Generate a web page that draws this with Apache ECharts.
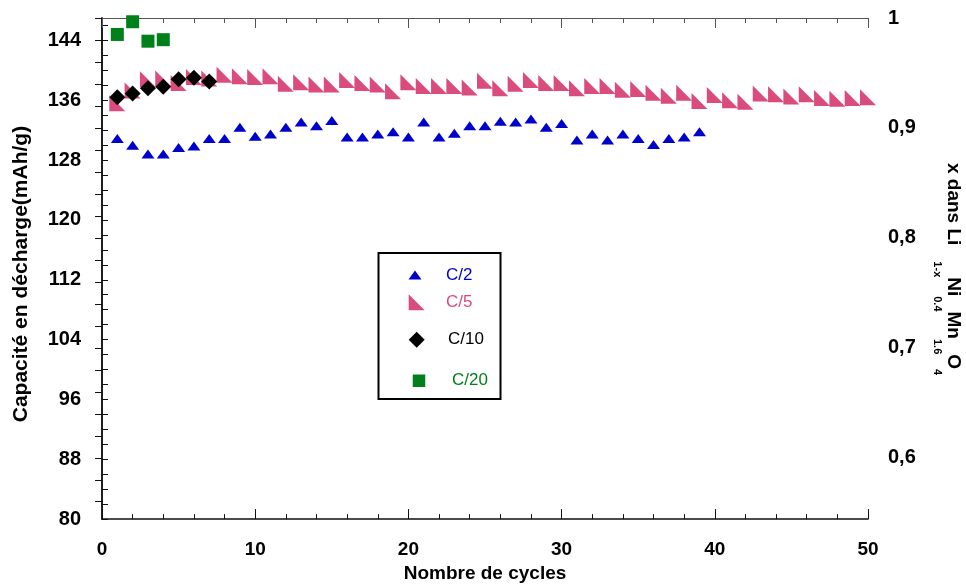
<!DOCTYPE html>
<html>
<head>
<meta charset="utf-8">
<script src="https://cdn.jsdelivr.net/npm/echarts@6/dist/echarts.min.js"></script>
<style>
  html, body { margin: 0; padding: 0; background: #fff; }
  #chart { width: 966px; height: 588px; }
</style>
</head>
<body>
<div id="chart"></div>
<script>
// ---- data ----
var cyclesC2 = [1,2,3,4,5,6,7,8,9,10,11,12,13,14,15,16,17,18,19,20,21,22,23,24,25,26,27,28,29,30,31,32,33,34,35,36,37,38,39];
var capC2 = [130.9,130.0,128.8,128.8,129.7,129.9,130.9,130.9,132.4,131.2,131.5,132.4,133.1,132.6,133.3,131.1,131.1,131.5,131.8,131.1,133.1,131.1,131.6,132.6,132.6,133.2,133.1,133.5,132.4,132.9,130.7,131.5,130.7,131.5,130.9,130.1,130.9,131.1,131.8];
var cyclesC5 = [1,2,3,4,5,6,7,8,9,10,11,12,13,14,15,16,17,18,19,20,21,22,23,24,25,26,27,28,29,30,31,32,33,34,35,36,37,38,39,40,41,42,43,44,45,46,47,48,49,50];
var capC5 = [135.6,137.3,138.8,138.9,138.3,139.1,138.9,139.4,139.2,139.1,139.2,138.2,138.4,138.1,138.1,138.7,138.3,138.1,137.2,138.4,137.9,137.9,137.9,137.7,138.6,137.6,138.2,138.7,138.3,138.3,137.6,137.9,137.9,137.4,137.5,137.0,136.6,137.0,135.9,136.7,136.0,135.8,136.9,136.8,136.5,136.8,136.3,136.2,136.3,136.4];
var cyclesC10 = [1,2,3,4,5,6,7];
var capC10 = [136.4,136.9,137.6,137.8,138.8,139.0,138.5];
var cyclesC20 = [1,2,3,4];
var capC20 = [144.8,146.5,143.9,144.1];

var seriesNames = ['C/2','C/5','C/10','C/20'];
var leftLabelValues = [80,88,96,104,112,120,128,136,144];
var leftTickValues = [80,82,84,86,88,90,92,94,96,98,100,102,104,106,108,110,112,114,116,118,120,122,124,126,128,130,132,134,136,138,140,142,144,146];
var rightLabelValues = [0.6,0.7,0.8,0.9,1];
var rightTickValues = [0.56,0.58,0.6,0.62,0.64,0.66,0.68,0.7,0.72,0.74,0.76,0.78,0.8,0.82,0.84,0.86,0.88,0.9,0.92,0.94,0.96,0.98,1];
var capMin = 80, capMax = 147;   // left axis range (mAh/g)
var xMin = 0, xMax = 50;

function pairs(xs, ys) { return xs.map(function (x, i) { return [x, ys[i]]; }); }

var FONT = 'Liberation Sans, Arial, Helvetica, sans-serif';
var colBlue = '#0000CC', colPink = '#DA4C7B', colBlack = '#000000', colGreen = '#00801A';
var pinkPath = 'path://M0,0 L0,10 L10,10 Z';

var chart = echarts.init(document.getElementById('chart'), null, { renderer: 'canvas' });

function legendItem(name, color, left, top, w, h, pad) {
  return {
    show: true, data: [name], left: left, top: top, padding: 0,
    itemWidth: w, itemHeight: h, selectedMode: false, symbolKeepAspect: false,
    itemStyle: { opacity: 1 },
    textStyle: { color: color, fontSize: 17, fontFamily: FONT, lineHeight: h, padding: [0, 0, 0, pad] }
  };
}

var option = {
  backgroundColor: '#ffffff',
  animation: false,
  grid: { left: 102, right: 98, top: 18, bottom: 68, containLabel: false },
  legend: [
    legendItem('C/2', colBlue, 408.5, 266.5, 13, 9, 19.5),
    legendItem('C/5', colPink, 408.7, 293.7, 16, 16, 16.3),
    legendItem('C/10', colBlack, 408.7, 331.3, 16, 16, 18.3),
    legendItem('C/20', colGreen, 412.75, 372.25, 12.5, 12.5, 21.75)
  ],
  xAxis: [
    {
      type: 'value', position: 'bottom', min: xMin, max: xMax, interval: 10,
      name: 'Nombre de cycles', nameLocation: 'middle', nameGap: 40,
      nameTextStyle: { fontSize: 19, fontWeight: 'bold', fontFamily: FONT, color: '#000' },
      axisLine: { lineStyle: { color: '#111', width: 1.5 } },
      axisTick: { inside: true, length: 10, lineStyle: { color: '#111', width: 1 } },
      minorTick: { show: true, splitNumber: 5, length: 5, lineStyle: { color: '#111', width: 1 } },
      splitLine: { show: false },
      axisLabel: { fontSize: 19, fontWeight: 'bold', fontFamily: FONT, color: '#000', margin: 21 }
    },
    {
      type: 'value', position: 'top', min: xMin, max: xMax, interval: 10,
      axisLine: { lineStyle: { color: '#555', width: 1 } },
      axisTick: { inside: true, length: 10, lineStyle: { color: '#555', width: 1 } },
      minorTick: { show: true, splitNumber: 5, length: 5, lineStyle: { color: '#555', width: 1 } },
      splitLine: { show: false },
      axisLabel: { show: false }
    }
  ],
  yAxis: [
    {
      type: 'value', position: 'left', min: capMin, max: capMax,
      name: 'Capacité en décharge(mAh/g)', nameLocation: 'middle', nameRotate: 90, nameGap: 70,
      nameTextStyle: { fontSize: 21, fontWeight: 'bold', fontFamily: FONT, color: '#000', padding: [0, 0, 0, -11] },
      axisLine: { show: true, lineStyle: { color: '#111', width: 1.5 } },
      axisTick: { show: true, inside: true, length: 6, customValues: leftTickValues, lineStyle: { color: '#111', width: 1 } },
      splitLine: { show: false },
      axisLabel: { customValues: leftLabelValues, fontSize: 20, fontWeight: 'bold', fontFamily: FONT, color: '#000', margin: 21 }
    },
    {
      type: 'value', position: 'right', min: capMin / capMax, max: 1,
      axisLine: { show: true, lineStyle: { color: '#111', width: 1.5 } },
      axisTick: { show: true, inside: true, length: 7, customValues: rightTickValues, lineStyle: { color: '#111', width: 1 } },
      splitLine: { show: false },
      axisLabel: {
        customValues: rightLabelValues, fontSize: 20, fontWeight: 'bold', fontFamily: FONT, color: '#000', margin: 20,
        formatter: function (v) { return (Math.abs(v - 1) < 1e-9) ? '1' : v.toFixed(1).replace('.', ','); }
      }
    }
  ],
  graphic: [
    {
      type: 'rect', left: 376, top: 250.5, z: 10,
      shape: { width: 122, height: 146 },
      style: { fill: null, stroke: '#000', lineWidth: 2 }
    },
    {
      type: 'text', x: 947.5, y: 163, rotation: -Math.PI / 2, z: 10,
      style: {
        text: '{m|x dans Li}{s1|1-x}{m|Ni}{s|0.4}{m|Mn}{s|1.6}{m|O}{s|4}',
        align: 'left', verticalAlign: 'middle', fill: '#000',
        rich: {
          m: { fontSize: 19, fontWeight: 'bold', fontFamily: FONT, fill: '#000', verticalAlign: 'top' },
          s: { fontSize: 11, fontWeight: 'bold', fontFamily: FONT, fill: '#000', verticalAlign: 'top', padding: [20, 0, 0, 0] },
          s1: { fontSize: 11, fontWeight: 'bold', fontFamily: FONT, fill: '#000', verticalAlign: 'top', padding: [20, 0, 0, 16] }
        }
      }
    }
  ],
  series: [
    {
      name: seriesNames[0], type: 'scatter', xAxisIndex: 0, yAxisIndex: 0,
      symbol: 'triangle', symbolSize: [13, 9], symbolKeepAspect: false,
      itemStyle: { color: colBlue, opacity: 1 }, data: pairs(cyclesC2, capC2)
    },
    {
      name: seriesNames[1], type: 'scatter', xAxisIndex: 0, yAxisIndex: 0,
      symbol: pinkPath, symbolSize: [16, 16], symbolKeepAspect: false,
      itemStyle: { color: colPink, opacity: 1 }, data: pairs(cyclesC5, capC5)
    },
    {
      name: seriesNames[2], type: 'scatter', xAxisIndex: 0, yAxisIndex: 0,
      symbol: 'diamond', symbolSize: [16, 16],
      itemStyle: { color: colBlack, opacity: 1 }, data: pairs(cyclesC10, capC10)
    },
    {
      name: seriesNames[3], type: 'scatter', xAxisIndex: 0, yAxisIndex: 0,
      symbol: 'rect', symbolSize: [13, 13],
      itemStyle: { color: colGreen, opacity: 1 }, data: pairs(cyclesC20, capC20)
    }
  ]
};
chart.setOption(option);
</script>
</body>
</html>
